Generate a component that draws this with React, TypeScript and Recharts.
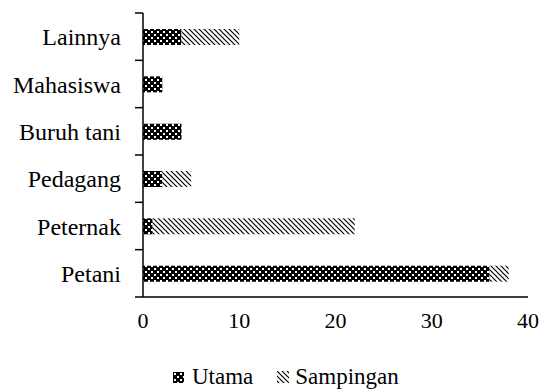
import React from 'react';
import { BarChart, Bar, XAxis, YAxis, Legend } from 'recharts';

// Pekerjaan responden: utama vs sampingan
const categories = ['Lainnya', 'Mahasiswa', 'Buruh tani', 'Pedagang', 'Peternak', 'Petani'];
const utama = [4, 2, 4, 2, 1, 36];
const sampingan = [6, 0, 0, 3, 21, 2];
const xTicks = [0, 10, 20, 30, 40];

const FONT = '"Liberation Serif", "Times New Roman", serif';
const CHART_W = 546;
const CHART_H = 389;
const MARGIN = { top: 13, right: 18, bottom: 52, left: 0 };
const X_AXIS_H = 40;
const Y_AXIS_W = 143;
const TICK_LEN = 8;

const chartData = categories.map((name, i) => ({
  name,
  utama: utama[i],
  sampingan: sampingan[i],
}));

const PatternDefs = () => (
  <defs>
    <pattern id="pat-utama" width="6" height="6" patternUnits="userSpaceOnUse">
      <rect width="6" height="6" fill="#000" />
      <rect x="1" y="1" width="2" height="2" fill="#fff" />
      <rect x="4" y="4" width="2" height="2" fill="#fff" />
    </pattern>
    <pattern id="pat-sampingan" width="5" height="5" patternUnits="userSpaceOnUse">
      <rect width="5" height="5" fill="#fff" />
      <path d="M0,0 L5,5 M-1,4 L1,6 M4,-1 L6,1" stroke="#000" strokeWidth="1.2" />
    </pattern>
  </defs>
);

// Excel-style tick marks on the category band edges, laid over the chart
const BandEdgeTicks = () => {
  const top = MARGIN.top;
  const bottom = CHART_H - MARGIN.bottom - X_AXIS_H;
  const axisX = MARGIN.left + Y_AXIS_W;
  const step = (bottom - top) / categories.length;
  return (
    <svg
      width={CHART_W}
      height={CHART_H}
      style={{ position: 'absolute', left: 0, top: 0, pointerEvents: 'none' }}
    >
      {Array.from({ length: categories.length + 1 }, (_, i) => (
        <line
          key={i}
          x1={axisX - TICK_LEN}
          x2={axisX}
          y1={top + i * step}
          y2={top + i * step}
          stroke="#000"
          strokeWidth={1.5}
        />
      ))}
    </svg>
  );
};

const LegendContent = () => (
  <div style={{ display: 'flex', alignItems: 'center', fontFamily: FONT, fontSize: 23, color: '#000' }}>
    <svg width="11" height="11" style={{ marginRight: 8 }}>
      <rect width="11" height="11" fill="url(#pat-utama)" />
    </svg>
    <span>Utama</span>
    <svg width="12" height="12" style={{ marginLeft: 24, marginRight: 6 }}>
      <rect width="12" height="12" fill="url(#pat-sampingan)" />
    </svg>
    <span>Sampingan</span>
  </div>
);

export default function App() {
  return (
    <div style={{ position: 'absolute', left: 0, top: 0, width: CHART_W, height: CHART_H, background: '#fff' }}>
      <BarChart
        width={CHART_W}
        height={CHART_H}
        data={chartData}
        layout="vertical"
        margin={MARGIN}
        barSize={16}
      >
        <PatternDefs />
        <XAxis
          type="number"
          domain={[0, 40]}
          ticks={xTicks}
          axisLine={{ stroke: '#000', strokeWidth: 1.5 }}
          tickLine={false}
          tickSize={0}
          tickMargin={15}
          tick={{ fontFamily: FONT, fontSize: 22, fill: '#000' }}
          height={X_AXIS_H}
        />
        <YAxis
          type="category"
          dataKey="name"
          width={Y_AXIS_W}
          axisLine={{ stroke: '#000', strokeWidth: 1.5 }}
          tickLine={false}
          tickSize={0}
          tickMargin={22}
          tick={{ fontFamily: FONT, fontSize: 24, fill: '#000' }}
        />
        <Legend
          verticalAlign="middle"
          content={<LegendContent />}
          wrapperStyle={{ left: 173, top: 364, width: 'auto' }}
        />
        <Bar dataKey="utama" name="Utama" stackId="a" fill="url(#pat-utama)" isAnimationActive={false} />
        <Bar dataKey="sampingan" name="Sampingan" stackId="a" fill="url(#pat-sampingan)" isAnimationActive={false} />
      </BarChart>
      <BandEdgeTicks />
    </div>
  );
}
